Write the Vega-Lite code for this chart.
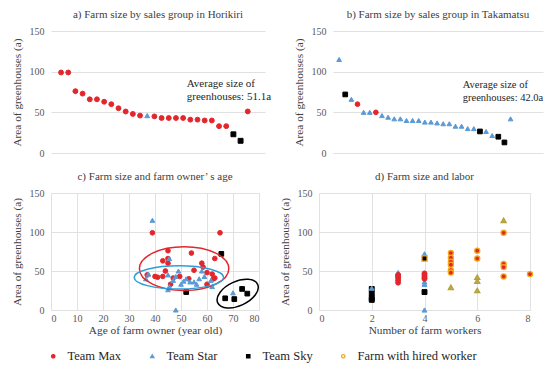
{
  "$schema": "https://vega.github.io/schema/vega-lite/v6.json",
  "padding": {"left": 11, "top": 9, "right": 0, "bottom": 0},
  "background": "white",
  "datasets": {
    "horikiri": [
      {"rank": 1, "area": 99, "group": "Team Max"},
      {"rank": 2, "area": 99, "group": "Team Max"},
      {"rank": 3, "area": 76, "group": "Team Max"},
      {"rank": 4, "area": 73, "group": "Team Max"},
      {"rank": 5, "area": 66, "group": "Team Max"},
      {"rank": 6, "area": 66, "group": "Team Max"},
      {"rank": 7, "area": 63, "group": "Team Max"},
      {"rank": 8, "area": 60, "group": "Team Max"},
      {"rank": 9, "area": 55, "group": "Team Max"},
      {"rank": 10, "area": 51, "group": "Team Max"},
      {"rank": 11, "area": 48, "group": "Team Max"},
      {"rank": 12, "area": 46, "group": "Team Max"},
      {"rank": 13, "area": 46, "group": "Team Star"},
      {"rank": 14, "area": 45, "group": "Team Max"},
      {"rank": 15, "area": 43, "group": "Team Max"},
      {"rank": 16, "area": 43, "group": "Team Max"},
      {"rank": 17, "area": 43, "group": "Team Max"},
      {"rank": 18, "area": 43, "group": "Team Max"},
      {"rank": 19, "area": 41, "group": "Team Max"},
      {"rank": 20, "area": 41, "group": "Team Max"},
      {"rank": 21, "area": 40, "group": "Team Max"},
      {"rank": 22, "area": 40, "group": "Team Max"},
      {"rank": 23, "area": 33, "group": "Team Max"},
      {"rank": 24, "area": 33, "group": "Team Max"},
      {"rank": 25, "area": 23, "group": "Team Sky"},
      {"rank": 26, "area": 15, "group": "Team Sky"},
      {"rank": 27, "area": 51.1, "group": "Team Max"}
    ],
    "takamatsu": [
      {"rank": 1, "area": 115, "group": "Team Star"},
      {"rank": 2, "area": 72, "group": "Team Sky"},
      {"rank": 3, "area": 66, "group": "Team Star"},
      {"rank": 4, "area": 60, "group": "Team Max"},
      {"rank": 5, "area": 50, "group": "Team Star"},
      {"rank": 6, "area": 50, "group": "Team Star"},
      {"rank": 7, "area": 50, "group": "Team Max"},
      {"rank": 8, "area": 46, "group": "Team Star"},
      {"rank": 9, "area": 44, "group": "Team Star"},
      {"rank": 10, "area": 42, "group": "Team Star"},
      {"rank": 11, "area": 42, "group": "Team Star"},
      {"rank": 12, "area": 40, "group": "Team Star"},
      {"rank": 13, "area": 40, "group": "Team Star"},
      {"rank": 14, "area": 40, "group": "Team Star"},
      {"rank": 15, "area": 38, "group": "Team Star"},
      {"rank": 16, "area": 38, "group": "Team Star"},
      {"rank": 17, "area": 37, "group": "Team Star"},
      {"rank": 18, "area": 36, "group": "Team Star"},
      {"rank": 19, "area": 36, "group": "Team Star"},
      {"rank": 20, "area": 33, "group": "Team Star"},
      {"rank": 21, "area": 33, "group": "Team Star"},
      {"rank": 22, "area": 30, "group": "Team Star"},
      {"rank": 23, "area": 30, "group": "Team Star"},
      {"rank": 24, "area": 26.5, "group": "Team Sky"},
      {"rank": 25, "area": 26.5, "group": "Team Star"},
      {"rank": 26, "area": 21.5, "group": "Team Star"},
      {"rank": 27, "area": 20, "group": "Team Sky"},
      {"rank": 28, "area": 13, "group": "Team Sky"},
      {"rank": 29, "area": 42.0, "group": "Team Star"}
    ],
    "notes": [
      {"panel": "a", "rank": 18.5, "area": 85, "label": ["Average size of", "greenhouses: 51.1a"]},
      {"panel": "b", "rank": 21.2, "area": 84, "label": ["Average size of", "greenhouses: 42.0a"]}
    ],
    "age": [
      {"age": 39, "area": 99, "group": "Team Max"},
      {"age": 65, "area": 99, "group": "Team Max"},
      {"age": 45, "area": 76, "group": "Team Max"},
      {"age": 54, "area": 73, "group": "Team Max"},
      {"age": 45, "area": 66, "group": "Team Max"},
      {"age": 63, "area": 66, "group": "Team Max"},
      {"age": 43, "area": 63, "group": "Team Max"},
      {"age": 58, "area": 60, "group": "Team Max"},
      {"age": 45, "area": 60, "group": "Team Max"},
      {"age": 58.5, "area": 55, "group": "Team Max"},
      {"age": 55, "area": 51, "group": "Team Max"},
      {"age": 44, "area": 50, "group": "Team Max"},
      {"age": 60, "area": 48, "group": "Team Max"},
      {"age": 62, "area": 46, "group": "Team Max"},
      {"age": 37, "area": 45, "group": "Team Max"},
      {"age": 40, "area": 43, "group": "Team Max"},
      {"age": 43, "area": 43, "group": "Team Max"},
      {"age": 41, "area": 42, "group": "Team Max"},
      {"age": 49.5, "area": 43, "group": "Team Max"},
      {"age": 63, "area": 41, "group": "Team Max"},
      {"age": 47, "area": 41, "group": "Team Max"},
      {"age": 53, "area": 40, "group": "Team Max"},
      {"age": 62.5, "area": 40, "group": "Team Max"},
      {"age": 46, "area": 33, "group": "Team Max"},
      {"age": 60, "area": 33, "group": "Team Max"},
      {"age": 39, "area": 115, "group": "Team Star"},
      {"age": 45.5, "area": 66, "group": "Team Star"},
      {"age": 49, "area": 50, "group": "Team Star"},
      {"age": 58, "area": 50, "group": "Team Star"},
      {"age": 37.5, "area": 46, "group": "Team Star"},
      {"age": 45, "area": 45, "group": "Team Star"},
      {"age": 48, "area": 43, "group": "Team Star"},
      {"age": 59, "area": 43, "group": "Team Star"},
      {"age": 36.5, "area": 40, "group": "Team Star"},
      {"age": 52, "area": 40, "group": "Team Star"},
      {"age": 57, "area": 40, "group": "Team Star"},
      {"age": 47, "area": 38, "group": "Team Star"},
      {"age": 61.5, "area": 38, "group": "Team Star"},
      {"age": 51, "area": 37, "group": "Team Star"},
      {"age": 53.5, "area": 36, "group": "Team Star"},
      {"age": 55, "area": 36, "group": "Team Star"},
      {"age": 50, "area": 33, "group": "Team Star"},
      {"age": 56, "area": 33, "group": "Team Star"},
      {"age": 45.5, "area": 30, "group": "Team Star"},
      {"age": 62, "area": 30, "group": "Team Star"},
      {"age": 45, "area": 26, "group": "Team Star"},
      {"age": 70, "area": 22, "group": "Team Star"},
      {"age": 48, "area": 0, "group": "Team Star"},
      {"age": 65.5, "area": 72, "group": "Team Sky"},
      {"age": 73.5, "area": 27, "group": "Team Sky"},
      {"age": 52, "area": 23, "group": "Team Sky"},
      {"age": 75.5, "area": 21, "group": "Team Sky"},
      {"age": 67, "area": 15, "group": "Team Sky"},
      {"age": 70.5, "area": 14, "group": "Team Sky"}
    ],
    "ellipses": [
      {"ring": "max", "age": 51.2, "area": 53},
      {"ring": "star", "age": 49.2, "area": 41.8},
      {"ring": "sky", "age": 71.8, "area": 21}
    ],
    "labor": [
      {"workers": 2, "area": 27, "group": "Team Sky", "hired": false},
      {"workers": 2, "area": 21, "group": "Team Sky", "hired": false},
      {"workers": 2, "area": 15, "group": "Team Sky", "hired": false},
      {"workers": 2, "area": 13, "group": "Team Sky", "hired": false},
      {"workers": 4, "area": 23, "group": "Team Sky", "hired": false},
      {"workers": 4, "area": 66, "group": "Team Sky", "hired": true},
      {"workers": 2, "area": 28, "group": "Team Star", "hired": false},
      {"workers": 3, "area": 48, "group": "Team Star", "hired": false},
      {"workers": 3, "area": 46, "group": "Team Star", "hired": false},
      {"workers": 4, "area": 72, "group": "Team Star", "hired": false},
      {"workers": 4, "area": 36, "group": "Team Star", "hired": false},
      {"workers": 4, "area": 33, "group": "Team Star", "hired": false},
      {"workers": 4, "area": 0, "group": "Team Star", "hired": false},
      {"workers": 5, "area": 29, "group": "Team Star", "hired": true},
      {"workers": 6, "area": 42, "group": "Team Star", "hired": true},
      {"workers": 6, "area": 37, "group": "Team Star", "hired": true},
      {"workers": 6, "area": 25, "group": "Team Star", "hired": true},
      {"workers": 7, "area": 115, "group": "Team Star", "hired": true},
      {"workers": 3, "area": 45, "group": "Team Max", "hired": false},
      {"workers": 3, "area": 43, "group": "Team Max", "hired": false},
      {"workers": 3, "area": 41, "group": "Team Max", "hired": false},
      {"workers": 3, "area": 38, "group": "Team Max", "hired": false},
      {"workers": 3, "area": 35, "group": "Team Max", "hired": false},
      {"workers": 4, "area": 47, "group": "Team Max", "hired": false},
      {"workers": 4, "area": 45, "group": "Team Max", "hired": false},
      {"workers": 4, "area": 43, "group": "Team Max", "hired": false},
      {"workers": 4, "area": 41, "group": "Team Max", "hired": false},
      {"workers": 4, "area": 40, "group": "Team Max", "hired": false},
      {"workers": 5, "area": 73, "group": "Team Max", "hired": true},
      {"workers": 5, "area": 67, "group": "Team Max", "hired": true},
      {"workers": 5, "area": 62, "group": "Team Max", "hired": true},
      {"workers": 5, "area": 58, "group": "Team Max", "hired": true},
      {"workers": 5, "area": 51, "group": "Team Max", "hired": true},
      {"workers": 5, "area": 48, "group": "Team Max", "hired": true},
      {"workers": 6, "area": 76, "group": "Team Max", "hired": true},
      {"workers": 6, "area": 66, "group": "Team Max", "hired": true},
      {"workers": 7, "area": 99, "group": "Team Max", "hired": true},
      {"workers": 7, "area": 59, "group": "Team Max", "hired": true},
      {"workers": 7, "area": 55, "group": "Team Max", "hired": true},
      {"workers": 7, "area": 43, "group": "Team Max", "hired": true},
      {"workers": 8, "area": 46, "group": "Team Max", "hired": true}
    ]
  },
  "config": {
    "view": {"stroke": null},
    "font": "Liberation Serif",
    "title": {"font": "Liberation Serif", "fontSize": 11, "fontWeight": "normal", "color": "#404040", "frame": "group", "anchor": "middle", "offset": 6},
    "axis": {
      "labelFont": "Liberation Serif", "labelFontSize": 10, "labelColor": "#595959",
      "titleFont": "Liberation Serif", "titleFontSize": 11.3, "titleFontWeight": "normal", "titleColor": "#404040",
      "domain": false, "ticks": false, "gridColor": "#d9d9d9", "gridWidth": 0.8,
      "labelPadding": 7, "titlePadding": 7
    },
    "legend": {
      "orient": "none", "legendX": -4, "legendY": 319, "direction": "horizontal", "columns": 4,
      "gridAlign": "none", "columnPadding": 24, "labelFont": "Liberation Serif", "labelFontSize": 12.5,
      "labelColor": "#262626", "symbolSize": 11, "symbolStrokeWidth": 1.3, "labelOffset": 8, "labelLimit": 200
    }
  },
  "spacing": 13,
  "vconcat": [
    {
      "spacing": 21,
      "hconcat": [
        {
          "width": 214, "height": 122,
          "title": "a) Farm size by sales group in Horikiri",
          "layer": [
            {
              "data": {"name": "horikiri"},
              "mark": {"type": "point", "opacity": 1, "size": 24, "strokeWidth": 1},
              "encoding": {
                "x": {"field": "rank", "type": "quantitative", "scale": {"domain": [-0.4, 29.4], "nice": false, "zero": false}, "axis": null},
                "y": {"field": "area", "type": "quantitative", "scale": {"domain": [0, 150], "nice": false}, "axis": {"values": [0, 50, 100, 150], "title": "Area of greenhouses (a)", "grid": true}},
                "fill": {"field": "group", "type": "nominal", "title": null, "legend": {"labelFont": "Liberation Serif", "labelFontSize": 12.5}, "scale": {"domain": ["Team Max", "Team Star", "Team Sky", "Farm with hired worker"], "range": ["#e4262c", "#5b9bd5", "#000000", "transparent"]}},
                "stroke": {"field": "group", "type": "nominal", "title": null, "legend": {"labelFont": "Liberation Serif", "labelFontSize": 12.5}, "scale": {"domain": ["Team Max", "Team Star", "Team Sky", "Farm with hired worker"], "range": ["#e4262c", "#5b9bd5", "#000000", "#f2a81d"]}},
                "shape": {"field": "group", "type": "nominal", "title": null, "legend": {"labelFont": "Liberation Serif", "labelFontSize": 12.5}, "scale": {"domain": ["Team Max", "Team Star", "Team Sky", "Farm with hired worker"], "range": ["circle", "triangle-up", "square", "circle"]}}
              }
            },
            {
              "data": {"name": "notes"},
              "transform": [{"filter": "datum.panel === 'a'"}],
              "mark": {"type": "text", "align": "left", "baseline": "middle", "font": "Liberation Serif", "fontSize": 11, "lineHeight": 13, "color": "#262626"},
              "encoding": {
                "x": {"field": "rank", "type": "quantitative", "scale": {"domain": [-0.4, 29.4], "nice": false, "zero": false}, "axis": null},
                "y": {"field": "area", "type": "quantitative", "scale": {"domain": [0, 150], "nice": false}, "axis": {"values": [0, 50, 100, 150], "title": "Area of greenhouses (a)", "grid": true}},
                "text": {"field": "label"}
              }
            }
          ]
        },
        {
          "width": 210, "height": 122,
          "title": "b) Farm size by sales group in Takamatsu",
          "layer": [
            {
              "data": {"name": "takamatsu"},
              "mark": {"type": "point", "opacity": 1, "size": 22, "strokeWidth": 1},
              "encoding": {
                "x": {"field": "rank", "type": "quantitative", "scale": {"domain": [0, 34.3], "nice": false, "zero": false}, "axis": null},
                "y": {"field": "area", "type": "quantitative", "scale": {"domain": [0, 150], "nice": false}, "axis": {"values": [0, 50, 100, 150], "title": "Area of greenhouses (a)", "grid": true}},
                "fill": {"field": "group", "type": "nominal", "title": null, "scale": {"domain": ["Team Max", "Team Star", "Team Sky", "Farm with hired worker"], "range": ["#e4262c", "#5b9bd5", "#000000", "transparent"]}},
                "stroke": {"field": "group", "type": "nominal", "title": null, "scale": {"domain": ["Team Max", "Team Star", "Team Sky", "Farm with hired worker"], "range": ["#e4262c", "#5b9bd5", "#000000", "#f2a81d"]}},
                "shape": {"field": "group", "type": "nominal", "title": null, "scale": {"domain": ["Team Max", "Team Star", "Team Sky", "Farm with hired worker"], "range": ["circle", "triangle-up", "square", "circle"]}}
              }
            },
            {
              "data": {"name": "notes"},
              "transform": [{"filter": "datum.panel === 'b'"}],
              "mark": {"type": "text", "align": "left", "baseline": "middle", "font": "Liberation Serif", "fontSize": 10.5, "lineHeight": 13, "color": "#262626"},
              "encoding": {
                "x": {"field": "rank", "type": "quantitative", "scale": {"domain": [0, 34.3], "nice": false, "zero": false}, "axis": null},
                "y": {"field": "area", "type": "quantitative", "scale": {"domain": [0, 150], "nice": false}, "axis": {"values": [0, 50, 100, 150], "title": "Area of greenhouses (a)", "grid": true}},
                "text": {"field": "label"}
              }
            }
          ]
        }
      ]
    },
    {
      "spacing": 17,
      "hconcat": [
        {
          "width": 208, "height": 117,
          "title": "c) Farm size and farm owner’ s age",
          "layer": [
            {
              "data": {"name": "age"},
              "mark": {"type": "point", "opacity": 1, "size": 22, "strokeWidth": 1},
              "encoding": {
                "x": {"field": "age", "type": "quantitative", "scale": {"domain": [0, 80], "nice": false}, "axis": {"values": [0, 10, 20, 30, 40, 50, 60, 70, 80], "title": "Age of farm owner (year old)", "grid": true, "labelPadding": 3, "titlePadding": 1}},
                "y": {"field": "area", "type": "quantitative", "scale": {"domain": [0, 150], "nice": false}, "axis": {"values": [0, 50, 100, 150], "title": "Area of greenhouses (a)", "grid": true}},
                "fill": {"field": "group", "type": "nominal", "title": null, "scale": {"domain": ["Team Max", "Team Star", "Team Sky", "Farm with hired worker"], "range": ["#e4262c", "#5b9bd5", "#000000", "transparent"]}},
                "stroke": {"field": "group", "type": "nominal", "title": null, "scale": {"domain": ["Team Max", "Team Star", "Team Sky", "Farm with hired worker"], "range": ["#e4262c", "#5b9bd5", "#000000", "#f2a81d"]}},
                "shape": {"field": "group", "type": "nominal", "title": null, "scale": {"domain": ["Team Max", "Team Star", "Team Sky", "Farm with hired worker"], "range": ["circle", "triangle-up", "square", "circle"]}}
              }
            },
            {
              "data": {"name": "ellipses"},
              "transform": [{"filter": "datum.ring === 'max'"}],
              "mark": {"type": "point", "shape": "M-1,0A1,0.49,0,1,1,1,0A1,0.49,0,1,1,-1,0Z", "size": 7990, "filled": false, "stroke": "#e3262b", "strokeWidth": 1.5, "opacity": 1},
              "encoding": {
                "x": {"field": "age", "type": "quantitative", "scale": {"domain": [0, 80], "nice": false}, "axis": {"values": [0, 10, 20, 30, 40, 50, 60, 70, 80], "title": "Age of farm owner (year old)", "grid": true, "labelPadding": 3, "titlePadding": 1}},
                "y": {"field": "area", "type": "quantitative", "scale": {"domain": [0, 150], "nice": false}, "axis": {"values": [0, 50, 100, 150], "title": "Area of greenhouses (a)", "grid": true}}
              }
            },
            {
              "data": {"name": "ellipses"},
              "transform": [{"filter": "datum.ring === 'star'"}],
              "mark": {"type": "point", "shape": "M-1,0A1,0.26,0,1,1,1,0A1,0.26,0,1,1,-1,0Z", "size": 7990, "filled": false, "stroke": "#2b9fd9", "strokeWidth": 1.5, "opacity": 1},
              "encoding": {
                "x": {"field": "age", "type": "quantitative", "scale": {"domain": [0, 80], "nice": false}, "axis": {"values": [0, 10, 20, 30, 40, 50, 60, 70, 80], "title": "Age of farm owner (year old)", "grid": true, "labelPadding": 3, "titlePadding": 1}},
                "y": {"field": "area", "type": "quantitative", "scale": {"domain": [0, 150], "nice": false}, "axis": {"values": [0, 50, 100, 150], "title": "Area of greenhouses (a)", "grid": true}}
              }
            },
            {
              "data": {"name": "ellipses"},
              "transform": [{"filter": "datum.ring === 'sky'"}],
              "mark": {"type": "point", "shape": "M-1,0A1,0.55,0,1,1,1,0A1,0.55,0,1,1,-1,0Z", "size": 1936, "angle": -25, "filled": false, "stroke": "#000000", "strokeWidth": 1.5, "opacity": 1},
              "encoding": {
                "x": {"field": "age", "type": "quantitative", "scale": {"domain": [0, 80], "nice": false}, "axis": {"values": [0, 10, 20, 30, 40, 50, 60, 70, 80], "title": "Age of farm owner (year old)", "grid": true, "labelPadding": 3, "titlePadding": 1}},
                "y": {"field": "area", "type": "quantitative", "scale": {"domain": [0, 150], "nice": false}, "axis": {"values": [0, 50, 100, 150], "title": "Area of greenhouses (a)", "grid": true}}
              }
            }
          ]
        },
        {
          "width": 211, "height": 117,
          "title": "d) Farm size and labor",
          "data": {"name": "labor"},
          "layer": [
            {
              "transform": [{"filter": "!datum.hired"}],
              "mark": {"type": "point", "opacity": 1, "size": 24, "strokeWidth": 1},
              "encoding": {
                "x": {"field": "workers", "type": "quantitative", "scale": {"domain": [0, 8], "nice": false}, "axis": {"values": [0, 2, 4, 6, 8], "title": "Number of farm workers", "grid": true, "labelPadding": 3, "titlePadding": 1}},
                "y": {"field": "area", "type": "quantitative", "scale": {"domain": [0, 150], "nice": false}, "axis": {"values": [0, 50, 100, 150], "title": "Area of greenhouses (a)", "grid": true}},
                "fill": {"field": "group", "type": "nominal", "title": null, "scale": {"domain": ["Team Max", "Team Star", "Team Sky", "Farm with hired worker"], "range": ["#e4262c", "#5b9bd5", "#000000", "transparent"]}},
                "stroke": {"field": "group", "type": "nominal", "title": null, "scale": {"domain": ["Team Max", "Team Star", "Team Sky", "Farm with hired worker"], "range": ["#e4262c", "#5b9bd5", "#000000", "#f2a81d"]}},
                "shape": {"field": "group", "type": "nominal", "title": null, "scale": {"domain": ["Team Max", "Team Star", "Team Sky", "Farm with hired worker"], "range": ["circle", "triangle-up", "square", "circle"]}}
              }
            },
            {
              "transform": [{"filter": "datum.hired"}],
              "mark": {"type": "point", "opacity": 1, "size": 26, "strokeWidth": 1.3},
              "encoding": {
                "x": {"field": "workers", "type": "quantitative", "scale": {"domain": [0, 8], "nice": false}, "axis": {"values": [0, 2, 4, 6, 8], "title": "Number of farm workers", "grid": true, "labelPadding": 3, "titlePadding": 1}},
                "y": {"field": "area", "type": "quantitative", "scale": {"domain": [0, 150], "nice": false}, "axis": {"values": [0, 50, 100, 150], "title": "Area of greenhouses (a)", "grid": true}},
                "fill": {"condition": {"test": "datum.group === 'Team Star'", "value": "#bfae45"}, "field": "group", "type": "nominal", "title": null, "scale": {"domain": ["Team Max", "Team Star", "Team Sky", "Farm with hired worker"], "range": ["#e4262c", "#5b9bd5", "#000000", "transparent"]}},
                "stroke": {"condition": {"test": "datum.group === 'Team Star'", "value": "#b3a23e"}, "value": "#f2a81d"},
                "shape": {"field": "group", "type": "nominal", "title": null, "scale": {"domain": ["Team Max", "Team Star", "Team Sky", "Farm with hired worker"], "range": ["circle", "triangle-up", "square", "circle"]}}
              }
            }
          ]
        }
      ]
    }
  ]
}
